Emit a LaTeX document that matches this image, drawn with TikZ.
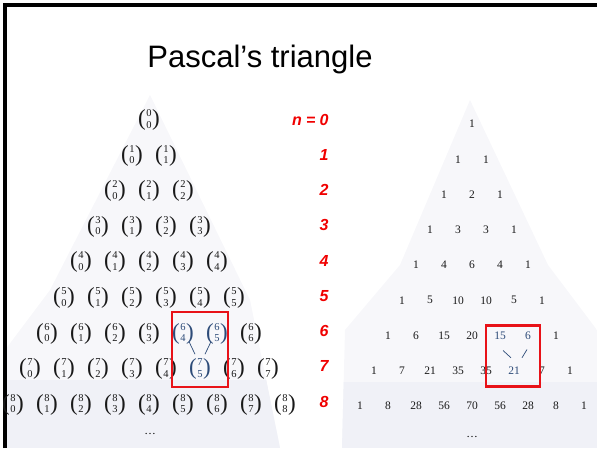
\documentclass[tikz,border=0pt]{standalone}
\usepackage{fontspec}
\setmainfont{Liberation Serif}
\newfontfamily\slidefont{Liberation Sans}
\usetikzlibrary{calc}
\definecolor{boxred}{RGB}{232,18,24}
\definecolor{labelred}{RGB}{240,0,0}
\definecolor{inkblue}{RGB}{45,75,120}
\definecolor{pageshade}{RGB}{247,247,250}
\definecolor{bandshade}{RGB}{240,241,247}
% binomial coefficient drawn with serif parentheses
\newcommand{\paren}[1]{\vcenter{\hbox{\fontsize{23}{23}\selectfont#1}}}
\newcommand{\pick}[2]{$\paren{(}\mkern1mu\vcenter{\hbox{\fontsize{10.5}{11.5}\selectfont
  \begin{tabular}{@{}c@{}}#1\\#2\end{tabular}}}\mkern1mu\paren{)}$}
\tikzset{
  binom/.style={inner sep=0pt},
  entry/.style={inner sep=0pt, font=\fontsize{11.5}{13}\selectfont},
  plain/.style={text=black!90},
  hilite/.style={text=inkblue},
  rowlabel/.style={anchor=base east, text=labelred, font=\slidefont\bfseries\itshape\fontsize{16}{18}\selectfont},
  redbox/.style={draw=boxred, line width=2.6pt},
  link/.style={draw=inkblue, line width=0.7pt},
}

\begin{document}
\begin{tikzpicture}[x=1pt,y=-1pt]
  \useasboundingbox (0,0) rectangle (597,448);
  % scanned page shading
  \begin{scope}
    \clip (150,95) -- (250,300) -- (280,448) -- (5,448) -- (5,350) -- (50,290) -- cycle;
    \fill[pageshade] (0,0) rectangle (300,448);
    \fill[bandshade] (0,380) rectangle (300,448);
  \end{scope}
  \begin{scope}
    \clip (470,100) -- (400,265) -- (345,330) -- (342,448) -- (597,448) -- (597,330) -- (548,265) -- cycle;
    \fill[pageshade] (300,0) rectangle (597,448);
    \fill[bandshade] (300,382) rectangle (597,448);
  \end{scope}

  % frame and title
  \draw[line width=4pt] (5,448) -- (5,5) -- (597,5);
  \node[anchor=base, font=\slidefont\fontsize{31}{36}\selectfont] (title) at (260,67) {Pascal’s triangle};

  % binomial coefficients
  \foreach \n in {0,...,8} {
    \foreach \k in {0,...,\n} {
      \pgfmathtruncatemacro\hl{(\n==6 && \k>3 && \k<6) || (\n==7 && \k==5)}
      \ifnum\hl=1 \def\tone{hilite}\else\def\tone{plain}\fi
      \node[binom, \tone] (b-\n-\k) at ({149+(\k-\n/2)*34}, {120+35.6*\n}) {\pick{\n}{\k}};
    }
  }
  \node[entry] (b-dots) at (150,434) {\dots};

  % row labels
  \node[rowlabel] (n-0) at (332,125) {n =\hspace{4pt}0};
  \foreach \n in {1,...,8}
    \node[rowlabel] (n-\n) at (332,{125+35.25*\n}) {\n};

  % numbers
  \foreach \r [count=\n from 0] in {{1},{1,1},{1,2,1},{1,3,3,1},{1,4,6,4,1},{1,5,10,10,5,1},{1,6,15,20,15,6,1},{1,7,21,35,35,21,7,1},{1,8,28,56,70,56,28,8,1}} {
    \foreach \v [count=\k from 0] in \r {
      \pgfmathtruncatemacro\hl{(\n==6 && \k>3 && \k<6) || (\n==7 && \k==5)}
      \ifnum\hl=1 \def\tone{hilite}\else\def\tone{plain}\fi
      \node[entry, \tone] (p-\n-\k) at ({472+(\k-\n/2)*28}, {124+35.25*\n}) {\v};
    }
  }
  \node[entry] (p-dots) at (472,437) {\dots};

  % highlighted recurrence
  \draw[redbox] ($(b-6-4.north west)+(0,-10)$) rectangle ($(b-7-5.south -| b-6-5.east)+(0,6)$);
  \draw[link] ($(b-6-4)+(6,8)$) -- ($(b-7-5)+(-5,-15)$);
  \draw[link] ($(b-6-5)+(-6,8)$) -- ($(b-7-5)+(5,-15)$);
  \draw[redbox] ($(p-6-4.north west)+(-8,-6)$) rectangle ($(p-7-5.south -| p-6-5.east)+(9,12)$);
  \draw[link] ($(p-6-4)+(3,15)$) -- ($(p-7-5)+(-3,-13)$);
  \draw[link] ($(p-6-5)+(-1,14)$) -- ($(p-7-5)+(8,-13)$);
\end{tikzpicture}
\end{document}
